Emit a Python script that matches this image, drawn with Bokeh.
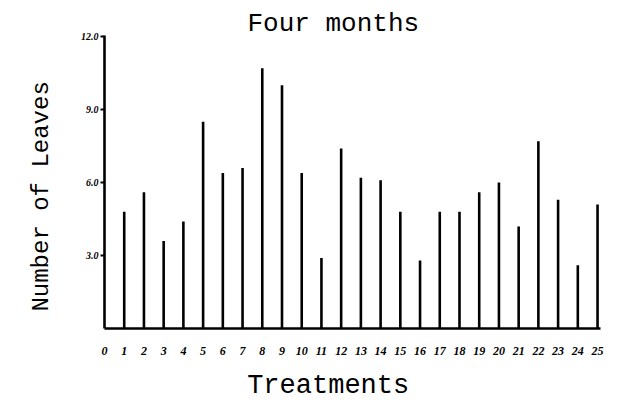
from bokeh.plotting import figure
from bokeh.models import Range1d, FixedTicker, Title
from bokeh.embed import file_html
from bokeh.resources import INLINE

# Number of leaves after four months, one value per treatment
treatments = list(range(1, 26))
leaves = [4.8, 5.6, 3.6, 4.4, 8.5, 6.4, 6.6, 10.7, 10.0, 6.4, 2.9, 7.4, 6.2,
          6.1, 4.8, 2.8, 4.8, 4.8, 5.6, 6.0, 4.2, 7.7, 5.3, 2.6, 5.1]

x_ticks = list(range(0, 26))
y_ticks = [3, 6, 9, 12]
y_tick_labels = ["3.0", "6.0", "9.0", "12.0"]

NBSP = "\u00a0"
mono = "Liberation Mono"
tick_font = "Liberation Serif"

p = figure(width=623, height=403, output_backend="svg", toolbar_location=None,
           title=None, x_range=Range1d(0, 25.15),
           y_range=Range1d(0, 12.05),
           min_border_left=104, min_border_right=23, min_border_top=35,
           min_border_bottom=73)
p.outline_line_color = None
p.xgrid.visible = False
p.ygrid.visible = False
p.background_fill_color = "white"
p.border_fill_color = "white"

# chart title, with a thin blank strip above it
p.add_layout(Title(text="Four months", text_font=mono, text_font_size="26px",
                   text_font_style="normal", text_color="black",
                   align="left", offset=143, standoff=-6), "above")
p.add_layout(Title(text=NBSP, text_font_size="5px", standoff=0), "above")

# vertical stick bars from the baseline up to each value
p.segment(x0=treatments, y0=[0] * len(treatments), x1=treatments, y1=leaves,
          line_color="black", line_width=2.6)

xa = p.xaxis[0]
xa.ticker = FixedTicker(ticks=x_ticks)
xa.axis_line_width = 2.6
xa.axis_line_color = "black"
xa.major_tick_line_color = None
xa.minor_tick_line_color = None
xa.major_label_standoff = 12
xa.major_label_text_font = tick_font
xa.major_label_text_font_style = "bold italic"
xa.major_label_text_font_size = "12px"
xa.major_label_text_color = "black"
xa.axis_label = "Treatments" + NBSP * 3
xa.axis_label_text_font = mono
xa.axis_label_text_font_size = "27px"
xa.axis_label_text_font_style = "normal"
xa.axis_label_text_color = "black"
xa.axis_label_standoff = 13

ya = p.yaxis[0]
ya.ticker = FixedTicker(ticks=y_ticks)
ya.major_label_overrides = {t: s for t, s in zip(y_ticks, y_tick_labels)}
ya.axis_line_width = 2.6
ya.axis_line_color = "black"
ya.major_tick_out = 4
ya.major_tick_in = 0
ya.major_tick_line_width = 2
ya.major_tick_line_color = "black"
ya.minor_tick_line_color = None
ya.major_label_standoff = 2
ya.major_label_text_font = tick_font
ya.major_label_text_font_style = "bold italic"
ya.major_label_text_font_size = "10px"
ya.major_label_text_color = "black"
ya.axis_label = "Number of Leaves" + NBSP * 2
ya.axis_label_text_font = mono
ya.axis_label_text_font_size = "24px"
ya.axis_label_text_font_style = "normal"
ya.axis_label_text_color = "black"
ya.axis_label_standoff = 23

open("out.html", "w").write(file_html(p, INLINE))
